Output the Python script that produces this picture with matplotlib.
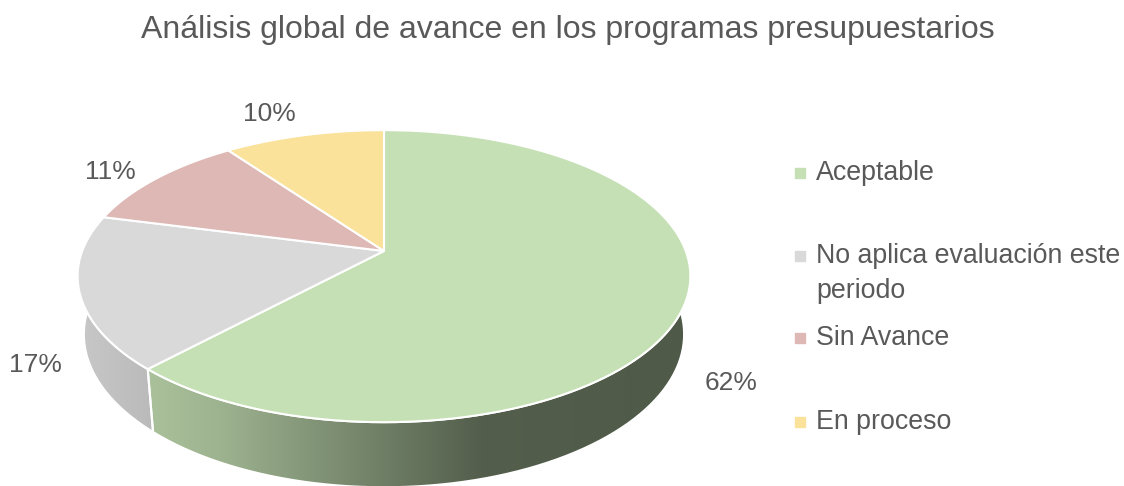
import numpy as np
import matplotlib.pyplot as plt
from matplotlib.patches import Polygon

# data
categories = ['Aceptable', 'No aplica evaluación este\nperiodo', 'Sin Avance', 'En proceso']
values = [62, 17, 11, 10]
colors = ['#C5E0B4', '#D9D9D9', '#DDB8B5', '#FAE29A']
title = 'Análisis global de avance en los programas presupuestarios'

plt.rcParams['font.family'] = ['Liberation Sans', 'DejaVu Sans']
txt_color = '#595959'

# 3d view (pixel space)
cx, cy = 384, 251
F, D = 1545, 5.12
alpha = np.radians(28)
c, s = np.cos(alpha), np.sin(alpha)
h = 0.22

def proj(x, y, z):
    d = D + y * c - z * s
    return cx + F * x / d, cy - F * (y * s + z * c) / d

fig = plt.figure(figsize=(11.24, 4.86), dpi=100)
ax = fig.add_axes([0, 0, 1, 1])

fracs = np.array(values) / sum(values)
edges = 90 - 360 * np.concatenate([[0], np.cumsum(fracs)])

tt = np.linspace(0, 2 * np.pi, 400)
rx, _ = proj(np.cos(tt), np.sin(tt), 0 * tt)
left, right = rx.min(), rx.max()

# side shading from left to right
u_stops = [0, 0.23, 0.66, 1]
f_stops = [0.92, 0.80, 0.42, 0.40]
u = np.linspace(0, 1, 300)
shade = np.interp(u, u_stops, f_stops)

for i in range(len(values)):
    t = np.radians(np.linspace(edges[i], edges[i + 1], 120))
    x, y = np.cos(t), np.sin(t)
    tx, ty = proj(x, y, 0 * t)
    bx, by = proj(x, y, 0 * t - h)
    side = np.column_stack([np.concatenate([tx, bx[::-1]]), np.concatenate([ty, by[::-1]])])
    poly = Polygon(side, closed=True, facecolor='none', edgecolor='white', lw=1.5, zorder=2)
    ax.add_patch(poly)
    base = np.array(plt.matplotlib.colors.to_rgb(colors[i]))
    img = base[None, None, :] * shade[None, :, None]
    im = ax.imshow(img, extent=[left, right, 486, 100], aspect='auto', zorder=1)
    im.set_clip_path(poly)

# label nudges (px)
lab_dx = [0, 3, -11, -23]
lab_dy = [6, 5, 5, -5]

for i in range(len(values)):
    t = np.radians(np.linspace(edges[i], edges[i + 1], 120))
    tx, ty = proj(np.cos(t), np.sin(t), 0 * t)
    ax0, ay0 = proj(0, 0, 0)
    top = np.column_stack([np.concatenate([[ax0], tx]), np.concatenate([[ay0], ty])])
    ax.add_patch(Polygon(top, closed=True, facecolor=colors[i], edgecolor='white', lw=1.5, zorder=3))

    mid = np.radians((edges[i] + edges[i + 1]) / 2)
    lx, ly = 1.17 * np.cos(mid), 1.17 * np.sin(mid)
    px, py = proj(lx, ly, -h if ly < 0 else 0)
    ax.text(px + lab_dx[i], py + lab_dy[i], f'{values[i]}%', fontsize=19, color=txt_color,
            ha='center', va='center', zorder=4)

# legend
leg_y = [173, 256, 338, 422]
for i, lab in enumerate(categories):
    ax.plot(800, leg_y[i], 's', ms=7, color=colors[i], zorder=4)
    for k, line in enumerate(lab.split('\n')):
        ax.text(816, leg_y[i] + 35 * k, line, fontsize=19.3, color=txt_color, ha='left', va='center')

ax.text(568, 30, title, fontsize=23, color=txt_color, ha='center', va='center')

ax.set_xlim(0, 1124)
ax.set_ylim(486, 0)
ax.axis('off')
fig.savefig('out.png', dpi=100)
